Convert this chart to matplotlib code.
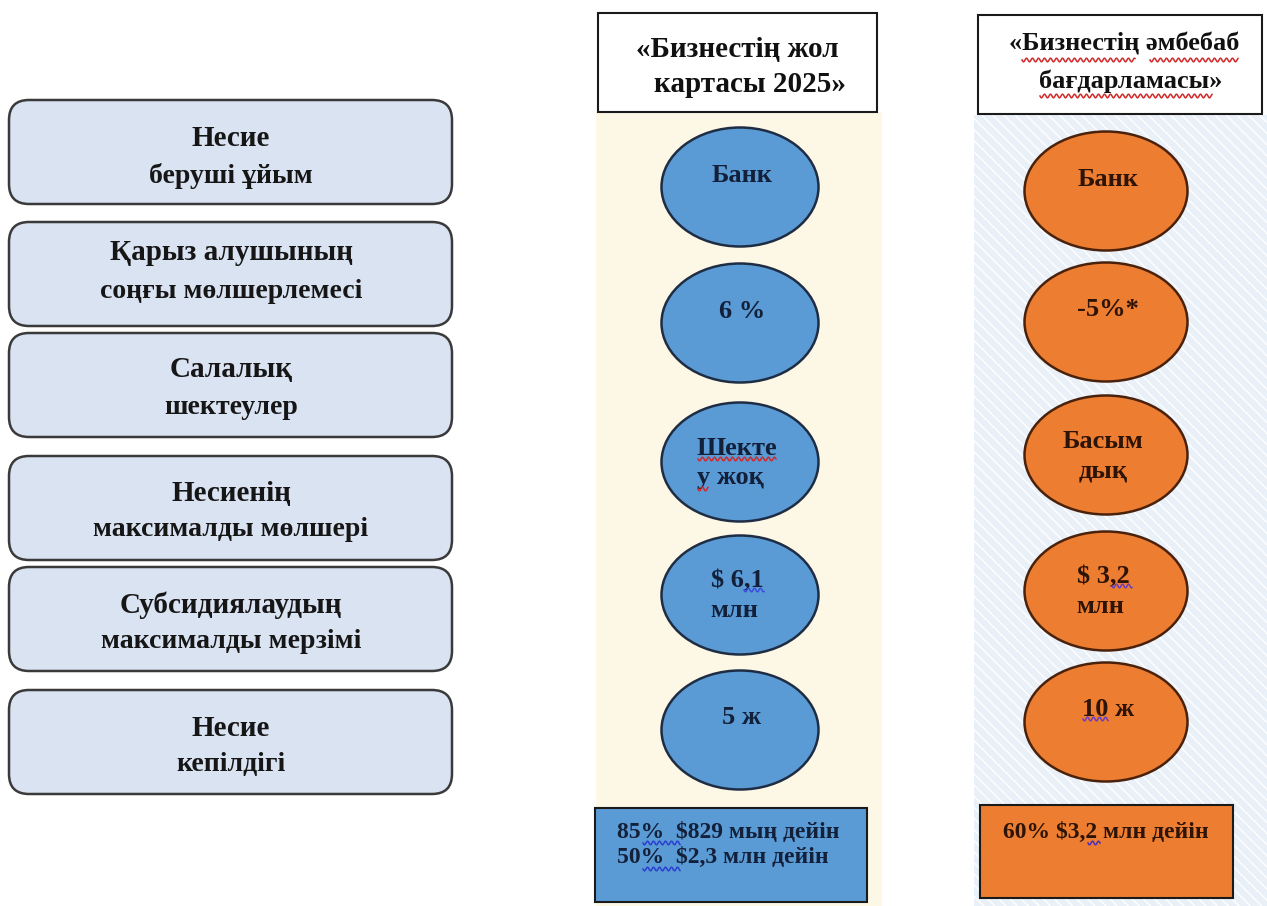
import matplotlib
matplotlib.use('Agg')
import matplotlib.pyplot as plt
import numpy as np
from matplotlib.patches import Ellipse, Rectangle, FancyBboxPatch

plt.rcParams['font.family'] = ['Liberation Serif', 'DejaVu Serif']
plt.rcParams['font.weight'] = 'bold'

# сол жақ санаттар (екі жол)
cat_top = ['Несие', 'Қарыз алушының', 'Салалық', 'Несиенің', 'Субсидиялаудың', 'Несие']
cat_bottom = ['беруші ұйым', 'соңғы мөлшерлемесі', 'шектеулер', 'максималды мөлшері',
              'максималды мерзімі', 'кепілдігі']

# бағдарламалар
prog_titles = [('«Бизнестің жол', 'картасы 2025»'), ('«Бизнестің әмбебаб', 'бағдарламасы»')]
roadmap_vals = ['Банк', '6 %', 'Шекте\nу жоқ', '$ 6,1\nмлн', '5 ж']
universal_vals = ['Банк', '-5%*', 'Басым\nдық', '$ 3,2\nмлн', '10 ж']
roadmap_note = '85%  $829 мың дейін\n50%  $2,3 млн дейін'
universal_note = '60% $3,2 млн дейін'

# layout (pixels)
box_tops = [100, 222, 333, 456, 567, 690]
box_h = 104
line_off = [(-13, 24), (-21, 18), (-15, 23), (-15, 22), (-14, 23), (-14, 23)]
road_cy = [187, 323, 462, 595, 730]
univ_cy = [191, 322, 455, 591, 722]

fig = plt.figure(figsize=(12.67, 9.06), dpi=100)
ax = fig.add_axes([0, 0, 1, 1])
ax.set_xlim(0, 1267)
ax.set_ylim(906, 0)
ax.axis('off')


def squiggle(x0, x1, y, color):
    # емле тексеруінің толқынды сызығы
    xs = np.linspace(x0, x1, int((x1 - x0) * 3) + 2)
    ax.plot(xs, y + 1.8 * np.sin((xs - x0) / 6.0 * 2 * np.pi), color=color, lw=1.1, zorder=5)


# left boxes
for i in range(len(cat_top)):
    y0 = box_tops[i]
    ax.add_patch(FancyBboxPatch((9, y0), 443, box_h, boxstyle='round,pad=0,rounding_size=20',
                                facecolor='#dae3f2', edgecolor='#3a3a3a', lw=1.8))
    cy = y0 + box_h / 2
    ax.text(231, cy + line_off[i][0], cat_top[i], ha='center', va='center', fontsize=21,
            color='#161616')
    ax.text(231, cy + line_off[i][1], cat_bottom[i], ha='center', va='center', fontsize=20,
            color='#161616')

# column backgrounds
ax.add_patch(Rectangle((596, 112), 286, 794, facecolor='#fdf7e6', edgecolor='none'))
ax.add_patch(Rectangle((974, 115), 293, 791, facecolor='#e9f0f8', edgecolor='white',
                       lw=0, hatch='\\\\\\'))

# header boxes
ax.add_patch(Rectangle((598, 13), 279, 99, facecolor='white', edgecolor='#1a1a1a', lw=1.5))
ax.add_patch(Rectangle((978, 15), 284, 99, facecolor='white', edgecolor='#1a1a1a', lw=1.5))
ax.text(737, 49, prog_titles[0][0], ha='center', va='center', fontsize=21, color='#111111')
ax.text(750, 85, prog_titles[0][1], ha='center', va='center', fontsize=21, color='#111111')
ax.text(1124, 44, prog_titles[1][0], ha='center', va='center', fontsize=19, color='#111111')
ax.text(1131, 81, prog_titles[1][1], ha='center', va='center', fontsize=19, color='#111111')
squiggle(1022, 1135, 60, '#d02a2a')
squiggle(1150, 1238, 60, '#d02a2a')
squiggle(1040, 1212, 96, '#d02a2a')

# ellipses
road_align = ['center', 'center', 'left', 'left', 'center']
univ_align = ['center', 'center', 'center', 'left', 'center']
for vals, cys, aligns, cx, w, fc, ec, tc in [
        (roadmap_vals, road_cy, road_align, 740, 157, '#5b9bd5', '#1f2d44', '#13203a'),
        (universal_vals, univ_cy, univ_align, 1106, 163, '#ed7d31', '#4a220c', '#2e1406')]:
    for v, cy, al in zip(vals, cys, aligns):
        ax.add_patch(Ellipse((cx, cy), w, 119, facecolor=fc, edgecolor=ec, lw=1.8))
        if '\n' in v:
            ax.text(cx - 3, cy + 1, v, ha='center', va='center', fontsize=19, color=tc,
                    multialignment=al, linespacing=1.38)
        else:
            ax.text(cx + 2, cy - 12, v, ha='center', va='center', fontsize=19, color=tc)

squiggle(698, 776, 459, '#d02a2a')
squiggle(698, 708, 489, '#d02a2a')
squiggle(744, 764, 590, '#3a50d8')
squiggle(1112, 1132, 586, '#6a3fc0')
squiggle(1083, 1108, 719, '#6a3fc0')

# bottom notes
ax.add_patch(Rectangle((595, 808), 272, 94, facecolor='#5b9bd5', edgecolor='#1a1a1a', lw=1.5))
ax.text(617, 845, roadmap_note, ha='left', va='center', fontsize=17, color='#13203a',
        linespacing=1.25)
squiggle(643, 680, 843, '#2a3fd0')
squiggle(643, 680, 869, '#2a3fd0')
ax.add_patch(Rectangle((980, 805), 253, 93, facecolor='#ed7d31', edgecolor='#1a1a1a', lw=1.5))
ax.text(1106, 832, universal_note, ha='center', va='center', fontsize=17, color='#2e1406')
squiggle(1088, 1100, 843, '#4a30c0')

fig.savefig('out.png', dpi=100, facecolor='white')
